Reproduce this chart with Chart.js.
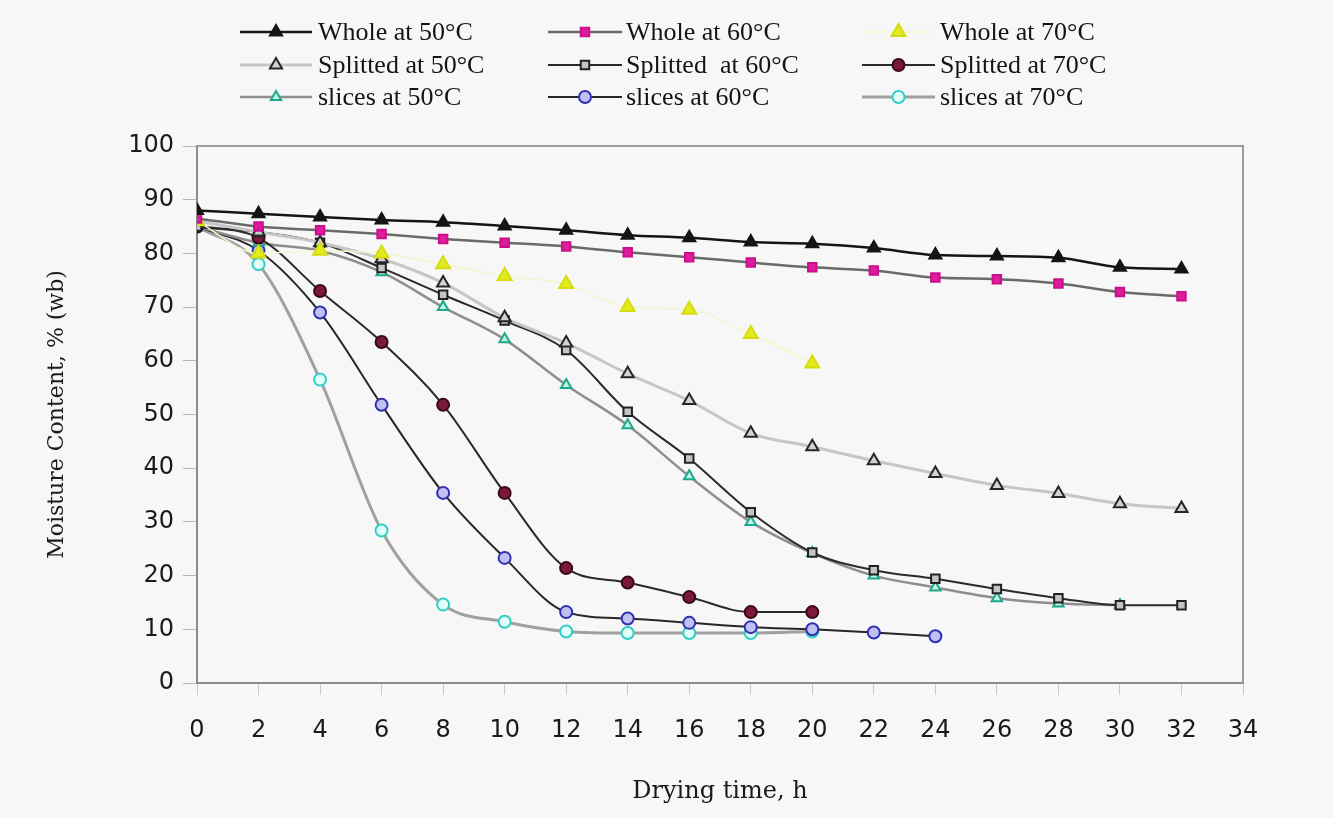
<!DOCTYPE html>
<html>
<head>
<meta charset="utf-8">
<script src="https://cdn.jsdelivr.net/npm/chart.js@4.4.1/dist/chart.umd.min.js"></script>
<style>
  html, body { margin: 0; padding: 0; background: #f7f7f7; }
  #wrap { width: 1333px; height: 818px; position: relative; }
</style>
</head>
<body>
<div id="wrap"><canvas id="chart"></canvas></div>
<script>
// drying time (h) shared by all series; shorter series stop early
const hours = [0, 2, 4, 6, 8, 10, 12, 14, 16, 18, 20, 22, 24, 26, 28, 30, 32];

// moisture content, % (wb)
const whole50   = [88, 87.4, 86.8, 86.2, 85.8, 85.1, 84.3, 83.4, 82.9, 82.1, 81.8, 81, 79.7, 79.5, 79.2, 77.4, 77.1];
const whole60   = [86.5, 85, 84.3, 83.6, 82.7, 82, 81.3, 80.2, 79.3, 78.3, 77.4, 76.8, 75.5, 75.2, 74.4, 72.8, 72];
const whole70   = [86, 80, 80.5, 80, 78, 75.8, 74.3, 70, 69.5, 65, 59.5];
const split50   = [86, 84, 82, 79, 74.5, 68, 63.3, 57.6, 52.6, 46.5, 44, 41.4, 39, 36.8, 35.3, 33.4, 32.5];
const split60   = [85, 84, 82, 77.3, 72.3, 67.5, 62, 50.5, 41.8, 31.8, 24.3, 21, 19.4, 17.5, 15.8, 14.5, 14.5];
const split70   = [85, 82.9, 73, 63.5, 51.8, 35.4, 21.4, 18.7, 16, 13.2, 13.2];
const slices50  = [85, 82, 80.5, 76.5, 70, 64, 55.5, 48, 38.5, 30, 24.2, 20, 17.8, 15.8, 14.8, 14.5];
const slices60  = [85, 80.5, 69, 51.8, 35.4, 23.3, 13.2, 12, 11.2, 10.4, 10, 9.4, 8.7];
const slices70  = [85, 78, 56.5, 28.4, 14.6, 11.4, 9.6, 9.3, 9.3, 9.3, 9.6];

const seriesLabels = [
  'Whole at 50°C', 'Whole at 60°C', 'Whole at 70°C',
  'Splitted at 50°C', 'Splitted  at 60°C', 'Splitted at 70°C',
  'slices at 50°C', 'slices at 60°C', 'slices at 70°C',
];

const xMin = 0, xMax = 34, xStep = 2;
const yMin = 0, yMax = 100, yStep = 10;

const pts = (vals) => vals.map((v, i) => ({ x: hours[i], y: v }));

// line colour, line width, marker style, radius, fill, border
const looks = [
  ['#151515', 2.5, 'triangle', 7, '#151515', '#151515'],
  ['#6a6a6a', 2.5, 'rect', 6, '#e01c9c', '#c8108a'],
  ['#f3f6cc', 1.5, 'triangle', 8, '#e2eb1e', '#d4dd12'],
  ['#c6c6c6', 3, 'triangle', 7, '#d2d2d2', '#262626'],
  ['#2a2a2a', 2, 'rect', 6, '#c4c4c4', '#222222'],
  ['#2a2a2a', 2, 'circle', 6, '#7a1a38', '#3a0a18'],
  ['#8e8e8e', 2.5, 'triangle', 6, '#c8f2e6', '#1ca88a'],
  ['#262626', 2, 'circle', 6, '#c0c0f2', '#3030b0'],
  ['#a0a0a0', 3, 'circle', 6, '#e0fff9', '#30cfc6'],
];
const values = [whole50, whole60, whole70, split50, split60, split70, slices50, slices60, slices70];

const datasets = values.map((vals, i) => {
  const [line, lw, style, r, fill, border] = looks[i];
  return {
    label: seriesLabels[i],
    data: pts(vals),
    borderColor: line,
    borderWidth: lw,
    pointStyle: style,
    pointRadius: r,
    pointBackgroundColor: fill,
    pointBorderColor: border,
    pointBorderWidth: 2,
    cubicInterpolationMode: 'monotone',
    fill: false,
  };
});

// grey frame on top/right of the plot + the 3x3 legend above it
const frameAndLegend = {
  id: 'frameAndLegend',
  beforeDatasetsDraw(chart) {
    const { ctx, chartArea: a } = chart;
    ctx.save();
    ctx.strokeStyle = '#9c9c9c';
    ctx.lineWidth = 2;
    ctx.beginPath();
    ctx.moveTo(a.left, a.top);
    ctx.lineTo(a.right, a.top);
    ctx.lineTo(a.right, a.bottom);
    ctx.stroke();
    ctx.restore();
  },
  afterDraw(chart) {
    const { ctx } = chart;
    const colLine = [[240, 312], [548, 622], [862, 935]];
    const colText = [318, 626, 940];
    const rowY = [32, 65, 97];
    ctx.save();
    chart.data.datasets.forEach((ds, i) => {
      const row = Math.floor(i / 3), col = i % 3;
      const y = rowY[row];
      const [x0, x1] = colLine[col];
      ctx.strokeStyle = ds.borderColor;
      ctx.lineWidth = ds.borderWidth;
      ctx.beginPath();
      ctx.moveTo(x0, y);
      ctx.lineTo(x1, y);
      ctx.stroke();
      ctx.fillStyle = ds.pointBackgroundColor;
      ctx.strokeStyle = ds.pointBorderColor;
      ctx.lineWidth = ds.pointBorderWidth;
      Chart.helpers.drawPoint(ctx, {
        pointStyle: ds.pointStyle, radius: ds.pointRadius, rotation: 0, borderWidth: ds.pointBorderWidth,
      }, (x0 + x1) / 2, y);
      ctx.fillStyle = '#141414';
      ctx.font = '26px "Liberation Serif", serif';
      ctx.textBaseline = 'middle';
      ctx.textAlign = 'left';
      ctx.fillText(ds.label, colText[col], y + 1);
    });
    ctx.restore();
  },
};

new Chart(document.getElementById('chart'), {
  type: 'line',
  data: { datasets },
  options: {
    responsive: true,
    maintainAspectRatio: false,
    devicePixelRatio: 1,
    animation: false,
    layout: { padding: { top: 146, right: 90, bottom: 10, left: 40 } },
    plugins: { legend: { display: false }, tooltip: { enabled: false } },
    scales: {
      x: {
        type: 'linear', min: xMin, max: xMax,
        afterFit: (s) => { s.height = 125; },
        border: { color: '#8c8c8c', width: 2 },
        grid: { drawOnChartArea: false, tickLength: 12, color: '#c8c8c8' },
        ticks: {
          stepSize: xStep, padding: 21, color: '#1a1a1a',
          font: { family: 'DejaVu Sans', size: 24 },
        },
        title: {
          display: true, text: 'Drying time, h', color: '#1a1a1a',
          font: { family: 'DejaVu Serif', size: 24 }, padding: { top: 0, bottom: 2 },
        },
      },
      y: {
        min: yMin, max: yMax,
        afterFit: (s) => { s.width = 157; },
        border: { color: '#8c8c8c', width: 2 },
        grid: { drawOnChartArea: false, tickLength: 14, color: '#b8b8b8' },
        ticks: {
          stepSize: yStep, padding: 9, color: '#1a1a1a',
          font: { family: 'DejaVu Sans', size: 24 },
        },
        title: {
          display: true, text: 'Moisture Content, % (wb)', color: '#1a1a1a',
          font: { family: 'DejaVu Serif', size: 22 }, padding: { top: 4, bottom: 0 },
        },
      },
    },
  },
  plugins: [frameAndLegend],
});
</script>
</body>
</html>
